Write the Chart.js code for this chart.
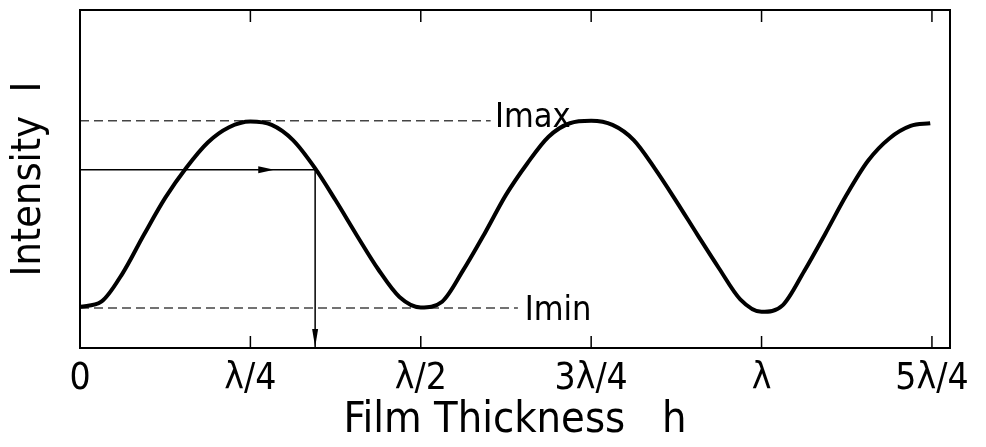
<!DOCTYPE html>
<html>
<head>
<meta charset="utf-8">
<script src="https://cdn.jsdelivr.net/npm/chart.js@4.4.1/dist/chart.umd.min.js"></script>
<style>
  html, body { margin: 0; padding: 0; background: #fff; }
  #wrap { width: 986px; height: 447px; position: relative; }
</style>
</head>
<body>
<div id="wrap"><canvas id="film"></canvas></div>
<script>
"use strict"
// x in units of lambda/4, y in arbitrary intensity units
const tickLabels = ['0', 'λ/4', 'λ/2', '3λ/4', 'λ', '5λ/4'];
const thickness = [0, 0.125, 0.25, 0.375, 0.5, 0.625, 0.75, 0.875,
                   1, 1.125, 1.25, 1.375, 1.5, 1.625, 1.75, 1.875,
                   2, 2.125, 2.25, 2.375, 2.5, 2.625, 2.75, 2.875,
                   3, 3.125, 3.25, 3.375, 3.5, 3.625, 3.75, 3.875,
                   4, 4.125, 4.25, 4.375, 4.5, 4.625, 4.75, 4.875, 4.99];
const intensity = [1.22, 1.37, 2.21, 3.35, 4.44, 5.34, 6.08, 6.53,
                   6.70, 6.60, 6.15, 5.35, 4.37, 3.33, 2.33, 1.51,
                   1.20, 1.37, 2.31, 3.39, 4.53, 5.46, 6.25, 6.65,
                   6.72, 6.60, 6.15, 5.30, 4.34, 3.34, 2.36, 1.44,
                   1.07, 1.27, 2.27, 3.39, 4.54, 5.54, 6.20, 6.57, 6.65];
const iMax = 6.72;
const iMin = 1.18;
const iMaxDashEnd = 2.41;
const iMinDashEnd = 2.57;
const arrowLevel = 5.27;   // intensity read in
const arrowThick = 1.38;   // thickness read out

const FONT = "'DejaVu Sans Condensed', 'DejaVu Sans', sans-serif";

// Rahmen, Ticks nach innen, Pfeilspitzen und Beschriftungen
const decor = {
  id: 'decor',
  afterDatasetsDraw(chart) {
    const {ctx, chartArea: a, scales: {x, y}} = chart;
    ctx.save();
    ctx.strokeStyle = '#000';
    ctx.lineWidth = 2;
    ctx.strokeRect(a.left, a.top, a.right - a.left, a.bottom - a.top);

    ctx.lineWidth = 1.5;
    tickLabels.forEach((_, i) => {
      if (i === 0) return;
      const px = x.getPixelForValue(i);
      ctx.beginPath();
      ctx.moveTo(px, a.top); ctx.lineTo(px, a.top + 12);
      ctx.moveTo(px, a.bottom); ctx.lineTo(px, a.bottom - 12);
      ctx.stroke();
    });

    // horizontal arrow head
    ctx.fillStyle = '#000';
    let hx = x.getPixelForValue(1.14), hy = y.getPixelForValue(arrowLevel);
    ctx.beginPath();
    ctx.moveTo(hx, hy); ctx.lineTo(hx - 16, hy - 3.5); ctx.lineTo(hx - 16, hy + 3.5);
    ctx.closePath(); ctx.fill();
    // vertical arrow head
    let vx = x.getPixelForValue(arrowThick), vy = a.bottom - 1;
    ctx.beginPath();
    ctx.moveTo(vx, vy); ctx.lineTo(vx - 3, vy - 18); ctx.lineTo(vx + 3, vy - 18);
    ctx.closePath(); ctx.fill();

    ctx.font = '34px ' + FONT;
    ctx.textAlign = 'left';
    ctx.textBaseline = 'middle';
    ctx.fillText('Imax', x.getPixelForValue(2.435), y.getPixelForValue(iMax) - 3);
    ctx.fillText('Imin', x.getPixelForValue(2.61), y.getPixelForValue(iMin) + 3);
    ctx.restore();
  }
};

new Chart(document.getElementById('film'), {
  type: 'line',
  data: {
    datasets: [
      {
        data: thickness.map((t, i) => ({x: t, y: intensity[i]})),
        borderColor: '#000',
        borderWidth: 4,
        pointRadius: 0,
        cubicInterpolationMode: 'monotone'
      },
      {
        data: [{x: 0, y: iMax}, {x: iMaxDashEnd, y: iMax}],
        borderColor: '#444',
        borderWidth: 1.5,
        borderDash: [9, 5],
        pointRadius: 0
      },
      {
        data: [{x: 0, y: iMin}, {x: iMinDashEnd, y: iMin}],
        borderColor: '#444',
        borderWidth: 1.5,
        borderDash: [9, 5],
        pointRadius: 0
      },
      {
        data: [{x: 0, y: arrowLevel}, {x: arrowThick, y: arrowLevel}, {x: arrowThick, y: 0}],
        borderColor: '#000',
        borderWidth: 1.5,
        pointRadius: 0,
        tension: 0
      }
    ]
  },
  options: {
    responsive: true,
    maintainAspectRatio: false,
    animation: false,
    layout: { padding: { top: 10, right: 36, left: 0, bottom: 0 } },
    plugins: { legend: { display: false }, tooltip: { enabled: false } },
    scales: {
      x: {
        type: 'linear',
        min: 0,
        max: 5.106,
        afterBuildTicks: (axis) => { axis.ticks = tickLabels.map((_, i) => ({value: i})); },
        afterFit: (axis) => { axis.height = 99; },
        grid: { display: false, drawTicks: false },
        border: { display: false },
        ticks: {
          color: '#000',
          padding: 9,
          maxRotation: 0,
          autoSkip: false,
          font: { family: FONT, size: 37 },
          callback: (v) => tickLabels[v]
        },
        title: {
          display: true,
          text: 'Film Thickness   h',
          color: '#000',
          font: { family: FONT, size: 43 },
          padding: { top: 0, bottom: 0 }
        }
      },
      y: {
        min: 0,
        max: 10,
        afterFit: (axis) => { axis.width = 80; },
        grid: { display: false, drawTicks: false },
        border: { display: false },
        ticks: { display: false },
        title: {
          display: true,
          text: 'Intensity  I',
          color: '#000',
          font: { family: FONT, size: 41 },
          padding: { top: 5, bottom: 0 }
        }
      }
    }
  },
  plugins: [decor]
});
</script>
</body>
</html>
